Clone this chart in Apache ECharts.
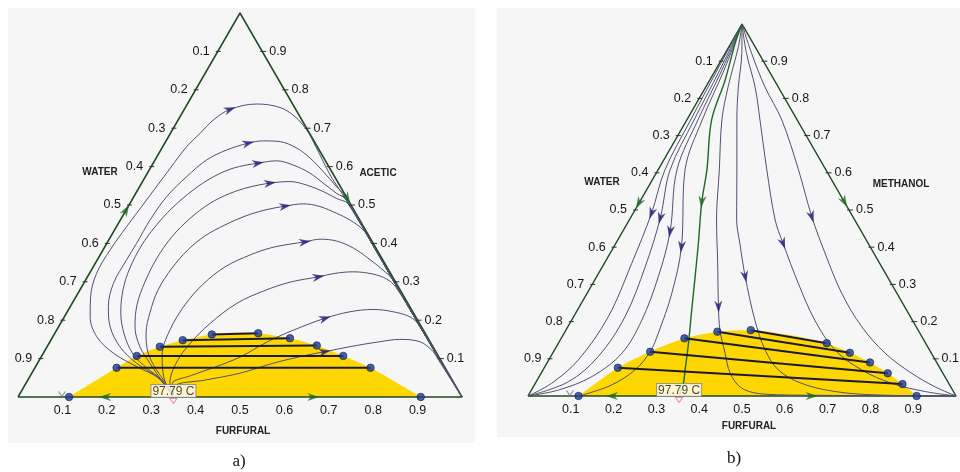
<!DOCTYPE html>
<html>
<head>
<meta charset="utf-8">
<title>Residue curve maps with furfural</title>
<script src="https://cdn.jsdelivr.net/npm/echarts@6/dist/echarts.min.js"></script>
<style>
  html, body { margin: 0; padding: 0; background: #ffffff; }
  #chart { width: 960px; height: 472px; }
</style>
</head>
<body>
<div id="chart"></div>
<script>
// Every composition is [x_furfural, x_light] (mole fractions); water is the remainder.
// Panel a): light component = acetic acid.  Panel b): light component = methanol.

const tickValues = [0.1, 0.2, 0.3, 0.4, 0.5, 0.6, 0.7, 0.8, 0.9];
const tickLabels = ['0.1', '0.2', '0.3', '0.4', '0.5', '0.6', '0.7', '0.8', '0.9'];
const azeotropeLabel = '97.79 C';

// ---------- a) water / acetic acid / furfural ----------
const residueA1 = [[0.350,0],[0.302,0.044],[0.228,0.079],[0.158,0.114],[0.099,0.157],[0.058,0.209],[0.033,0.261],[0.016,0.322],[0.016,0.383],[0.023,0.444],[0.033,0.513],[0.045,0.596],[0.054,0.652],[0.067,0.687],[0.079,0.721],[0.103,0.749],[0.156,0.763],[0.213,0.754],[0.259,0.730],[0.303,0.695],[0.341,0.656],[0.381,0.613],[0.422,0.570],[0.464,0.531],[0.597,0.400],[0.797,0.200],[1,0]];
const residueA2 = [[0.350,0],[0.292,0.049],[0.223,0.088],[0.164,0.131],[0.116,0.183],[0.086,0.235],[0.067,0.296],[0.066,0.357],[0.067,0.400],[0.067,0.461],[0.074,0.522],[0.093,0.574],[0.116,0.617],[0.148,0.643],[0.188,0.661],[0.219,0.667],[0.258,0.665],[0.304,0.648],[0.347,0.622],[0.394,0.587],[0.438,0.552],[0.476,0.522],[0.597,0.400],[0.797,0.200],[1,0]];
const residueA3 = [[0.350,0],[0.302,0.044],[0.253,0.075],[0.203,0.112],[0.157,0.164],[0.121,0.221],[0.097,0.279],[0.084,0.336],[0.081,0.396],[0.087,0.443],[0.101,0.492],[0.125,0.539],[0.153,0.573],[0.187,0.596],[0.236,0.609],[0.275,0.615],[0.318,0.604],[0.366,0.583],[0.409,0.557],[0.453,0.530],[0.483,0.514],[0.597,0.400],[0.797,0.200],[1,0]];
const residueA4 = [[0.350,0],[0.303,0.042],[0.253,0.088],[0.209,0.131],[0.172,0.183],[0.148,0.240],[0.136,0.300],[0.132,0.361],[0.138,0.417],[0.155,0.465],[0.180,0.504],[0.212,0.530],[0.249,0.547],[0.289,0.557],[0.332,0.561],[0.374,0.552],[0.420,0.535],[0.459,0.517],[0.492,0.503],[0.597,0.400],[0.797,0.200],[1,0]];
const residueA5 = [[0.350,0],[0.308,0.042],[0.271,0.076],[0.234,0.117],[0.205,0.167],[0.187,0.221],[0.176,0.279],[0.179,0.336],[0.191,0.383],[0.211,0.419],[0.242,0.448],[0.276,0.471],[0.313,0.487],[0.353,0.497],[0.391,0.503],[0.432,0.496],[0.479,0.478],[0.517,0.461],[0.560,0.435],[0.594,0.403],[0.697,0.300],[0.797,0.200],[1,0]];
const residueA6 = [[0.350,0],[0.312,0.039],[0.291,0.070],[0.270,0.109],[0.255,0.174],[0.256,0.240],[0.270,0.294],[0.297,0.339],[0.338,0.370],[0.374,0.388],[0.413,0.398],[0.444,0.404],[0.475,0.411],[0.515,0.406],[0.561,0.388],[0.607,0.362],[0.653,0.333],[0.692,0.305],[0.797,0.200],[1,0]];
const residueA7 = [[0.350,0],[0.324,0.036],[0.312,0.091],[0.318,0.140],[0.337,0.192],[0.371,0.244],[0.415,0.276],[0.463,0.299],[0.520,0.313],[0.553,0.322],[0.592,0.326],[0.640,0.320],[0.677,0.307],[0.708,0.286],[0.797,0.200],[1,0]];
const residueA8 = [[0.350,0],[0.330,0.034],[0.360,0.055],[0.405,0.078],[0.448,0.104],[0.489,0.143],[0.533,0.174],[0.589,0.205],[0.637,0.222],[0.686,0.228],[0.734,0.222],[0.778,0.209],[0.806,0.190],[0.897,0.100],[1,0]];
const residueA9 = [[0.350,0],[0.339,0.029],[0.399,0.044],[0.469,0.062],[0.531,0.088],[0.596,0.109],[0.632,0.118],[0.682,0.131],[0.743,0.144],[0.785,0.150],[0.833,0.144],[0.871,0.122],[0.893,0.102],[1,0]];
const residueCurvesA = [residueA1, residueA2, residueA3, residueA4, residueA5, residueA6, residueA7, residueA8, residueA9];
const arrowIndexA = [15, 14, 14, 13, 13, 11, 8, 7, 6];

// liquid-liquid envelope: water-rich ends, organic-rich ends, cap
const raffinateA = [[0.115,0],[0.184,0.076],[0.214,0.107],[0.254,0.131],[0.297,0.148],[0.355,0.163]];
const extractA   = [[0.907,0],[0.756,0.076],[0.679,0.107],[0.606,0.134],[0.536,0.153],[0.458,0.166]];
const capA = [[0.405,0.168]];
const azeotropeA = [0.350, 0];
// binary-edge flow directions: [position, heading toward]
const edgeArrowsA = [[[0,0.487],[0,1]], [[0.483,0.517],[1,0]], [[0.196,0],[0,0]], [[0.665,0],[1,0]]];
const edgeMarkA = [0.095, 0.008];

// ---------- b) water / methanol / furfural ----------
const residueB1 = [[0,1],[0.004,0.876],[0.009,0.742],[0.016,0.608],[0.043,0.491],[0.064,0.357],[0.081,0.213],[0.069,0.097],[0.038,0.034],[0,0]];
const residueB2 = [[0,1],[0.010,0.876],[0.017,0.742],[0.028,0.608],[0.070,0.478],[0.100,0.348],[0.120,0.213],[0.111,0.106],[0.075,0.038],[0,0]];
const residueB3 = [[0,1],[0.015,0.876],[0.026,0.742],[0.044,0.608],[0.111,0.442],[0.144,0.321],[0.164,0.204],[0.162,0.115],[0.123,0.052],[0.063,0.016],[0,0]];
const residueB4 = [[0,1],[0.020,0.876],[0.036,0.742],[0.063,0.608],[0.158,0.401],[0.198,0.276],[0.220,0.169],[0.226,0.119],[0.215,0.070],[0.181,0.030],[0.137,0.007],[0.118,0]];
const residueB5 = [[0,1],[0.022,0.939],[0.052,0.831],[0.082,0.742],[0.143,0.608],[0.204,0.473],[0.260,0.366],[0.325,0.240],[0.360,0.177],[0.403,0.115],[0.442,0.061],[0.489,0.021],[0.551,0.005],[0.662,0.002],[1,0]];
const residueB6 = [[0,1],[0.039,0.921],[0.076,0.831],[0.117,0.742],[0.184,0.608],[0.251,0.473],[0.290,0.410],[0.347,0.321],[0.428,0.204],[0.492,0.124],[0.550,0.070],[0.622,0.034],[0.712,0.012],[0.809,0.003],[1,0]];
const residueB7 = [[0,1],[0.050,0.921],[0.115,0.831],[0.171,0.742],[0.254,0.608],[0.341,0.473],[0.391,0.410],[0.480,0.303],[0.568,0.204],[0.655,0.124],[0.745,0.070],[0.833,0.034],[0.922,0.012],[1,0]];
const residueB8 = [[0,1],[0.062,0.921],[0.138,0.831],[0.222,0.742],[0.328,0.608],[0.422,0.482],[0.502,0.384],[0.595,0.276],[0.687,0.186],[0.777,0.115],[0.866,0.061],[0.938,0.025],[1,0]];
const residueCurvesB = [residueB1, residueB2, residueB3, residueB4, residueB5, residueB6, residueB7, residueB8];
const arrowIndexB = [4, 4, 4, 4, 7, 7, 6, 5];
// distillation boundary running from the methanol vertex into the azeotrope
const separatrixB = [[0,1],[0.010,0.948],[0.036,0.849],[0.058,0.742],[0.114,0.608],[0.145,0.522],[0.193,0.410],[0.230,0.321],[0.267,0.231],[0.304,0.142],[0.332,0.070],[0.346,0.034],[0.353,0]];
const separatrixArrowB = 5;

const raffinateB = [[0.118,0],[0.172,0.076],[0.226,0.119],[0.288,0.155],[0.356,0.173],[0.432,0.177]];
const extractB   = [[0.908,0],[0.859,0.032],[0.810,0.061],[0.754,0.090],[0.694,0.116],[0.627,0.142]];
const capB = [[0.530,0.164]];
const azeotropeB = [0.353, 0];
const edgeArrowsB = [[[0,0.518],[0,0]], [[0.478,0.522],[1,0]], [[0.196,0],[0,0]], [[0.663,0],[1,0]]];
const edgeMarkB = [0.094, 0.008];

// ---------- layout & styling ----------
const gridA = { left: 18, top: 13, width: 444, height: 384 };
const gridB = { left: 528, top: 24, width: 428, height: 372 };
const grids = [gridA, gridB];

const SANS = '"Liberation Sans", Arial, sans-serif';
const SERIF = '"Liberation Serif", "Times New Roman", serif';
const EDGE = '#1f4a22';
const CURVE = '#505070';
const NAVY = '#1c1c78';
const GREEN = '#1e6a22';
const TIE = '#1a1a38';
const DOT = '#1d3c8e';
const ARROW_PATH = 'path://M5,0L10,12L5,8.5L0,12Z';

// ternary composition -> cartesian plot units (x along the base, y = light fraction)
const toXY = p => [p[0] + p[1] / 2, p[1]];

function heading(gi, from, to) {
  const g = grids[gi];
  const a = toXY(from), b = toXY(to);
  const dx = (b[0] - a[0]) * g.width;
  const dy = (b[1] - a[1]) * g.height;
  return Math.atan2(dy, dx) * 180 / Math.PI - 90;
}

function lineSeries(gi, pts, lineStyle, extra) {
  return Object.assign({
    type: 'line', xAxisIndex: gi, yAxisIndex: gi,
    data: pts.map(toXY), showSymbol: false, symbol: 'none',
    smooth: 0.35, clip: false, silent: true, animation: false,
    lineStyle: lineStyle, z: 3
  }, extra || {});
}

function arrowSeries(gi, items, color, size, z) {
  return {
    type: 'scatter', xAxisIndex: gi, yAxisIndex: gi, silent: true, animation: false,
    symbol: ARROW_PATH, symbolSize: size, itemStyle: { color: color }, z: z || 8,
    data: items
  };
}

function tickSeries(gi, side) {
  const data = tickValues.map(v => toXY(side === 'left' ? [0, 1 - v] : side === 'right' ? [1 - v, v] : [v, 0]));
  return {
    type: 'custom', xAxisIndex: gi, yAxisIndex: gi, silent: true, clip: false, animation: false, z: 9,
    data: data,
    renderItem: function (params, api) {
      const p = api.coord([api.value(0), api.value(1)]);
      const label = tickLabels[params.dataIndex];
      const font = '12.5px ' + SANS;
      if (side === 'bottom') {
        return { type: 'text', x: p[0], y: p[1] + 14,
          style: { text: label, font: font, fill: '#161616', align: 'center', verticalAlign: 'middle' } };
      }
      const left = side === 'left';
      return { type: 'group', children: [
        { type: 'line', shape: left ? { x1: p[0] - 2, y1: p[1], x2: p[0] + 3, y2: p[1] }
                                    : { x1: p[0] - 2, y1: p[1], x2: p[0] + 4, y2: p[1] },
          style: { stroke: '#333', lineWidth: 1 } },
        { type: 'text', x: left ? p[0] - 8 : p[0] + 7, y: p[1],
          style: { text: label, font: font, fill: '#161616', align: left ? 'right' : 'left', verticalAlign: 'middle' } }
      ] };
    }
  };
}

function panelSeries(gi, curves, arrowIdx, raff, ext, cap, azeo, edgeArrows, edgeMark) {
  const out = [];
  // two-liquid region
  const envelope = raff.concat(cap, ext.slice().reverse());
  out.push(lineSeries(gi, envelope, { width: 0, color: '#FFD700' },
    { smooth: 0.25, areaStyle: { color: '#FFD700', opacity: 1 }, z: 1 }));
  // triangle
  out.push(lineSeries(gi, [[0,0],[1,0],[0,1],[0,0]], { width: 1.5, color: EDGE }, { smooth: false, z: 2 }));
  // residue curves
  curves.forEach(c => out.push(lineSeries(gi, c, { width: 1, color: CURVE })));
  // tie lines
  for (let i = 1; i < raff.length; i++) {
    out.push(lineSeries(gi, [raff[i], ext[i]], { width: 2, color: TIE }, { smooth: false, z: 5 }));
  }
  // phase-equilibrium points
  out.push({
    type: 'scatter', xAxisIndex: gi, yAxisIndex: gi, silent: true, animation: false, z: 7,
    symbolSize: 7.5, itemStyle: { color: DOT, borderColor: '#0f1f5a', borderWidth: 0.8 },
    data: raff.concat(ext).map(toXY)
  });
  // curve direction arrows
  out.push(arrowSeries(gi, curves.map((c, i) => {
    const k = arrowIdx[i];
    return { value: toXY(c[k]), symbolRotate: heading(gi, c[k - 1], c[k + 1]) };
  }), NAVY, [8, 12]));
  // binary-edge arrows
  out.push(arrowSeries(gi, edgeArrows.map(e => ({ value: toXY(e[0]), symbolRotate: heading(gi, e[0], e[1]) })),
    GREEN, [8, 12], 9));
  // small open mark near the water-rich end of the base
  out.push({
    type: 'scatter', xAxisIndex: gi, yAxisIndex: gi, silent: true, animation: false, z: 6,
    symbol: 'path://M0,0L4,6L8,0', symbolSize: [7, 5],
    itemStyle: { color: 'transparent', borderColor: '#777', borderWidth: 1 },
    data: [toXY(edgeMark)]
  });
  // azeotrope marker and temperature tag
  out.push({
    type: 'scatter', xAxisIndex: gi, yAxisIndex: gi, silent: true, animation: false, z: 12,
    symbol: 'triangle', symbolRotate: 180, symbolSize: [7, 5], symbolOffset: [0, 4],
    itemStyle: { color: '#ffffff', borderColor: '#e07a8a', borderWidth: 1 },
    data: [toXY(azeo)]
  });
  out.push({
    type: 'scatter', xAxisIndex: gi, yAxisIndex: gi, silent: true, animation: false, z: 12,
    symbolSize: 0, data: [toXY(azeo)],
    label: { show: true, position: 'top', distance: 0, formatter: azeotropeLabel,
      fontFamily: SANS, fontSize: 12, lineHeight: 11, color: '#161616',
      backgroundColor: '#ffffff', borderColor: '#8a8a8a', borderWidth: 1, padding: [1, 1, 0, 1] }
  });
  out.push(tickSeries(gi, 'left'), tickSeries(gi, 'right'), tickSeries(gi, 'bottom'));
  return out;
}

const series = [].concat(
  panelSeries(0, residueCurvesA, arrowIndexA, raffinateA, extractA, capA, azeotropeA, edgeArrowsA, edgeMarkA),
  panelSeries(1, residueCurvesB, arrowIndexB, raffinateB, extractB, capB, azeotropeB, edgeArrowsB, edgeMarkB),
  [
    lineSeries(1, separatrixB, { width: 1.4, color: GREEN }, { z: 4 }),
    arrowSeries(1, [{ value: toXY(separatrixB[separatrixArrowB]),
      symbolRotate: heading(1, separatrixB[separatrixArrowB - 1], separatrixB[separatrixArrowB + 1]) }], GREEN, [8, 12], 9)
  ]
);

function title(text, x, y) {
  return { type: 'text', x: x, y: y, z: 100, silent: true,
    style: { text: text, font: 'bold 10px ' + SANS, fill: '#222', align: 'center', verticalAlign: 'middle' } };
}
function caption(text, x, y) {
  return { type: 'text', x: x, y: y, z: 100, silent: true,
    style: { text: text, font: '17px ' + SERIF, fill: '#111', align: 'center', verticalAlign: 'middle' } };
}

const option = {
  backgroundColor: '#ffffff',
  animation: false,
  grid: grids.map(g => ({ left: g.left, top: g.top, width: g.width, height: g.height, containLabel: false })),
  xAxis: [0, 1].map(i => ({ gridIndex: i, type: 'value', min: 0, max: 1, show: false })),
  yAxis: [0, 1].map(i => ({ gridIndex: i, type: 'value', min: 0, max: 1, show: false })),
  graphic: [
    { type: 'rect', z: 0, silent: true, shape: { x: 8, y: 8, width: 467, height: 435 }, style: { fill: '#f6f6f6' } },
    { type: 'rect', z: 0, silent: true, shape: { x: 497, y: 8, width: 463, height: 429 }, style: { fill: '#f6f6f6' } },
    title('WATER', 100, 172), title('ACETIC', 378, 173), title('FURFURAL', 243, 431),
    title('WATER', 602, 182), title('METHANOL', 901, 184), title('FURFURAL', 749, 426),
    caption('a)', 239, 462), caption('b)', 734, 459)
  ],
  series: series
};

const chart = echarts.init(document.getElementById('chart'), null, { renderer: 'canvas' });
chart.setOption(option);
</script>
</body>
</html>
